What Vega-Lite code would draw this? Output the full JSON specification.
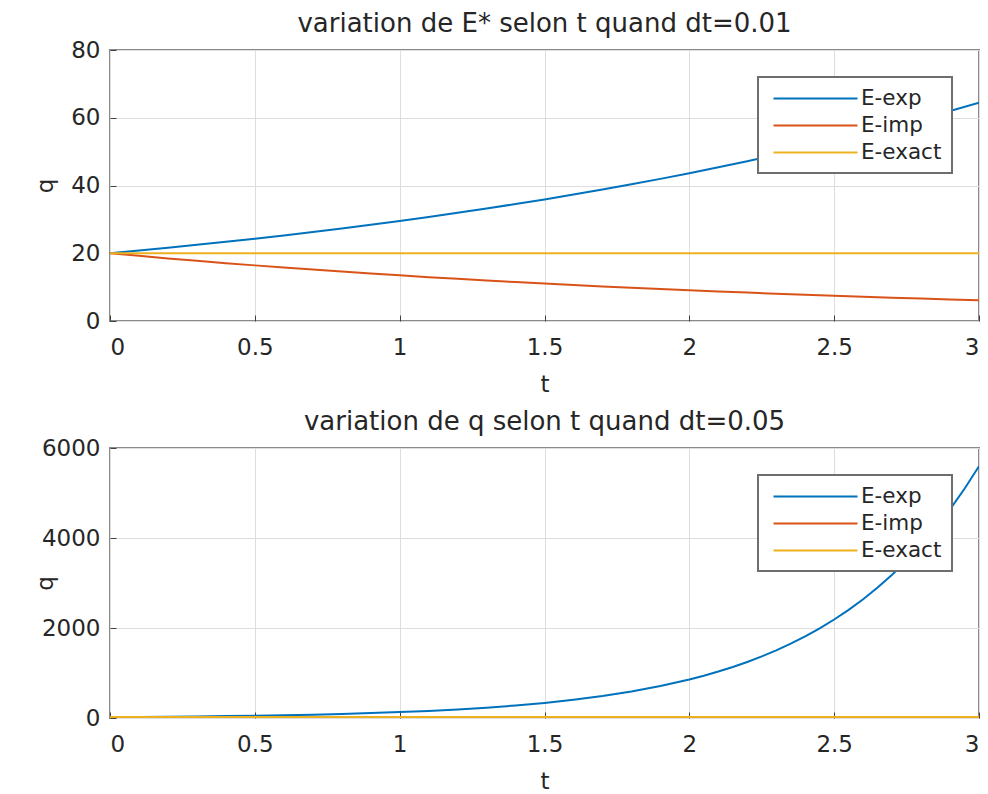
{
  "$schema": "https://vega.github.io/schema/vega-lite/v6.json",
  "padding": {"left": 33, "top": 10, "right": 0, "bottom": 0},
  "background": "white",
  "config": {
    "font": "DejaVu Sans",
    "view": {"stroke": "#8a8a8a", "strokeWidth": 2},
    "axis": {
      "domain": false, "grid": true, "gridColor": "#dedede", "gridWidth": 1,
      "labelFont": "DejaVu Sans", "labelFontSize": 23, "labelColor": "#262626",
      "titleFont": "DejaVu Sans", "titleFontSize": 23, "titleFontWeight": "normal", "titleColor": "#262626",
      "tickColor": "#404040", "tickSize": -6
    },
    "axisX": {"labelPadding": 21, "titlePadding": 14},
    "axisY": {"labelPadding": 16},
    "title": {"font": "DejaVu Sans", "fontSize": 26, "fontWeight": "normal", "color": "#262626", "frame": "group", "offset": 2},
    "legend": {
      "title": null, "orient": "top-right", "offset": 27,
      "fillColor": "white", "strokeColor": "#6e6e6e", "strokeWidth": 2, "padding": 10,
      "symbolType": "M-4,0H4", "symbolSize": 441, "symbolStrokeWidth": 2, "symbolOffset": 36,
      "labelOffset": 34, "labelFont": "DejaVu Sans", "labelFontSize": 21.5, "labelColor": "#262626",
      "rowPadding": 5
    },
    "line": {"strokeWidth": 2}
  },
  "datasets": {
    "haut": [
      {"t":0,"q":20,"courbe":"E-exp"},{"t":0.1,"q":20.80,"courbe":"E-exp"},{"t":0.2,"q":21.62,"courbe":"E-exp"},{"t":0.3,"q":22.48,"courbe":"E-exp"},{"t":0.4,"q":23.38,"courbe":"E-exp"},{"t":0.5,"q":24.31,"courbe":"E-exp"},{"t":0.6,"q":25.27,"courbe":"E-exp"},{"t":0.7,"q":26.28,"courbe":"E-exp"},{"t":0.8,"q":27.32,"courbe":"E-exp"},{"t":0.9,"q":28.41,"courbe":"E-exp"},{"t":1.0,"q":29.54,"courbe":"E-exp"},{"t":1.1,"q":30.71,"courbe":"E-exp"},{"t":1.2,"q":31.94,"courbe":"E-exp"},{"t":1.3,"q":33.21,"courbe":"E-exp"},{"t":1.4,"q":34.53,"courbe":"E-exp"},{"t":1.5,"q":35.90,"courbe":"E-exp"},{"t":1.6,"q":37.33,"courbe":"E-exp"},{"t":1.7,"q":38.81,"courbe":"E-exp"},{"t":1.8,"q":40.36,"courbe":"E-exp"},{"t":1.9,"q":41.96,"courbe":"E-exp"},{"t":2.0,"q":43.63,"courbe":"E-exp"},{"t":2.1,"q":45.36,"courbe":"E-exp"},{"t":2.2,"q":47.17,"courbe":"E-exp"},{"t":2.3,"q":49.05,"courbe":"E-exp"},{"t":2.4,"q":51.00,"courbe":"E-exp"},{"t":2.5,"q":53.02,"courbe":"E-exp"},{"t":2.6,"q":55.13,"courbe":"E-exp"},{"t":2.7,"q":57.32,"courbe":"E-exp"},{"t":2.8,"q":59.60,"courbe":"E-exp"},{"t":2.9,"q":61.98,"courbe":"E-exp"},{"t":3.0,"q":64.44,"courbe":"E-exp"},
      {"t":0,"q":20,"courbe":"E-imp"},{"t":0.1,"q":19.23,"courbe":"E-imp"},{"t":0.2,"q":18.48,"courbe":"E-imp"},{"t":0.3,"q":17.76,"courbe":"E-imp"},{"t":0.4,"q":17.08,"courbe":"E-imp"},{"t":0.5,"q":16.42,"courbe":"E-imp"},{"t":0.6,"q":15.78,"courbe":"E-imp"},{"t":0.7,"q":15.17,"courbe":"E-imp"},{"t":0.8,"q":14.58,"courbe":"E-imp"},{"t":0.9,"q":14.02,"courbe":"E-imp"},{"t":1.0,"q":13.47,"courbe":"E-imp"},{"t":1.1,"q":12.95,"courbe":"E-imp"},{"t":1.2,"q":12.45,"courbe":"E-imp"},{"t":1.3,"q":11.97,"courbe":"E-imp"},{"t":1.4,"q":11.50,"courbe":"E-imp"},{"t":1.5,"q":11.06,"courbe":"E-imp"},{"t":1.6,"q":10.63,"courbe":"E-imp"},{"t":1.7,"q":10.22,"courbe":"E-imp"},{"t":1.8,"q":9.82,"courbe":"E-imp"},{"t":1.9,"q":9.44,"courbe":"E-imp"},{"t":2.0,"q":9.08,"courbe":"E-imp"},{"t":2.1,"q":8.72,"courbe":"E-imp"},{"t":2.2,"q":8.39,"courbe":"E-imp"},{"t":2.3,"q":8.06,"courbe":"E-imp"},{"t":2.4,"q":7.75,"courbe":"E-imp"},{"t":2.5,"q":7.45,"courbe":"E-imp"},{"t":2.6,"q":7.16,"courbe":"E-imp"},{"t":2.7,"q":6.88,"courbe":"E-imp"},{"t":2.8,"q":6.62,"courbe":"E-imp"},{"t":2.9,"q":6.36,"courbe":"E-imp"},{"t":3.0,"q":6.11,"courbe":"E-imp"},
      {"t":0,"q":20,"courbe":"E-exact"},{"t":0.5,"q":20,"courbe":"E-exact"},{"t":1.0,"q":20,"courbe":"E-exact"},{"t":1.5,"q":20,"courbe":"E-exact"},{"t":2.0,"q":20,"courbe":"E-exact"},{"t":2.5,"q":20,"courbe":"E-exact"},{"t":3.0,"q":20,"courbe":"E-exact"}
    ],
    "bas": [
      {"t":0,"q":20,"courbe":"E-exp"},{"t":0.1,"q":24.13,"courbe":"E-exp"},{"t":0.2,"q":29.12,"courbe":"E-exp"},{"t":0.3,"q":35.13,"courbe":"E-exp"},{"t":0.4,"q":42.39,"courbe":"E-exp"},{"t":0.5,"q":51.15,"courbe":"E-exp"},{"t":0.6,"q":61.72,"courbe":"E-exp"},{"t":0.7,"q":74.47,"courbe":"E-exp"},{"t":0.8,"q":89.85,"courbe":"E-exp"},{"t":0.9,"q":108.41,"courbe":"E-exp"},{"t":1.0,"q":130.81,"courbe":"E-exp"},{"t":1.1,"q":157.84,"courbe":"E-exp"},{"t":1.2,"q":190.44,"courbe":"E-exp"},{"t":1.3,"q":229.79,"courbe":"E-exp"},{"t":1.4,"q":277.26,"courbe":"E-exp"},{"t":1.5,"q":334.54,"courbe":"E-exp"},{"t":1.6,"q":403.66,"courbe":"E-exp"},{"t":1.7,"q":487.06,"courbe":"E-exp"},{"t":1.8,"q":587.68,"courbe":"E-exp"},{"t":1.9,"q":709.10,"courbe":"E-exp"},{"t":2.0,"q":855.6,"courbe":"E-exp"},{"t":2.05,"q":939.8,"courbe":"E-exp"},{"t":2.1,"q":1032.4,"courbe":"E-exp"},{"t":2.15,"q":1134.0,"courbe":"E-exp"},{"t":2.2,"q":1245.7,"courbe":"E-exp"},{"t":2.25,"q":1368.3,"courbe":"E-exp"},{"t":2.3,"q":1503.0,"courbe":"E-exp"},{"t":2.35,"q":1651.0,"courbe":"E-exp"},{"t":2.4,"q":1813.5,"courbe":"E-exp"},{"t":2.45,"q":1992.0,"courbe":"E-exp"},{"t":2.5,"q":2188.2,"courbe":"E-exp"},{"t":2.55,"q":2403.6,"courbe":"E-exp"},{"t":2.6,"q":2640.3,"courbe":"E-exp"},{"t":2.65,"q":2900.2,"courbe":"E-exp"},{"t":2.7,"q":3185.7,"courbe":"E-exp"},{"t":2.75,"q":3499.3,"courbe":"E-exp"},{"t":2.8,"q":3843.9,"courbe":"E-exp"},{"t":2.85,"q":4222.3,"courbe":"E-exp"},{"t":2.9,"q":4638.0,"courbe":"E-exp"},{"t":2.95,"q":5094.6,"courbe":"E-exp"},{"t":3.0,"q":5596.2,"courbe":"E-exp"},
      {"t":0,"q":20,"courbe":"E-imp"},{"t":0.5,"q":16.4,"courbe":"E-imp"},{"t":1.0,"q":13.5,"courbe":"E-imp"},{"t":1.5,"q":11.1,"courbe":"E-imp"},{"t":2.0,"q":9.1,"courbe":"E-imp"},{"t":2.5,"q":7.5,"courbe":"E-imp"},{"t":3.0,"q":6.1,"courbe":"E-imp"},
      {"t":0,"q":20,"courbe":"E-exact"},{"t":0.5,"q":20,"courbe":"E-exact"},{"t":1.0,"q":20,"courbe":"E-exact"},{"t":1.5,"q":20,"courbe":"E-exact"},{"t":2.0,"q":20,"courbe":"E-exact"},{"t":2.5,"q":20,"courbe":"E-exact"},{"t":3.0,"q":20,"courbe":"E-exact"}
    ]
  },
  "spacing": 11,
  "resolve": {"scale": {"color": "independent", "y": "independent"}, "legend": {"color": "independent"}},
  "vconcat": [
    {
      "title": "variation de E* selon t quand dt=0.01",
      "data": {"name": "haut"},
      "width": 869, "height": 271,
      "mark": {"type": "line", "clip": true},
      "encoding": {
        "x": {"field": "t", "type": "quantitative", "scale": {"domain": [0, 3], "nice": false}, "axis": {"values": [0, 0.5, 1, 1.5, 2, 2.5, 3], "format": "~r", "title": "t"}},
        "y": {"field": "q", "type": "quantitative", "scale": {"domain": [0, 80], "nice": false}, "axis": {"values": [0, 20, 40, 60, 80], "format": "d", "title": "q", "titlePadding": 13}},
        "color": {"field": "courbe", "type": "nominal", "scale": {"domain": ["E-exp", "E-imp", "E-exact"], "range": ["#0072BD", "#D95319", "#EDB120"]}, "legend": {"orient": "top-right"}}
      }
    },
    {
      "title": "variation de q selon t quand dt=0.05",
      "data": {"name": "bas"},
      "width": 869, "height": 270,
      "mark": {"type": "line", "clip": true},
      "encoding": {
        "x": {"field": "t", "type": "quantitative", "scale": {"domain": [0, 3], "nice": false}, "axis": {"values": [0, 0.5, 1, 1.5, 2, 2.5, 3], "format": "~r", "title": "t"}},
        "y": {"field": "q", "type": "quantitative", "scale": {"domain": [0, 6000], "nice": false}, "axis": {"values": [0, 2000, 4000, 6000], "format": "d", "title": "q", "titlePadding": -16}},
        "color": {"field": "courbe", "type": "nominal", "scale": {"domain": ["E-exp", "E-imp", "E-exact"], "range": ["#0072BD", "#D95319", "#EDB120"]}, "legend": {"orient": "top-right"}}
      }
    }
  ]
}
